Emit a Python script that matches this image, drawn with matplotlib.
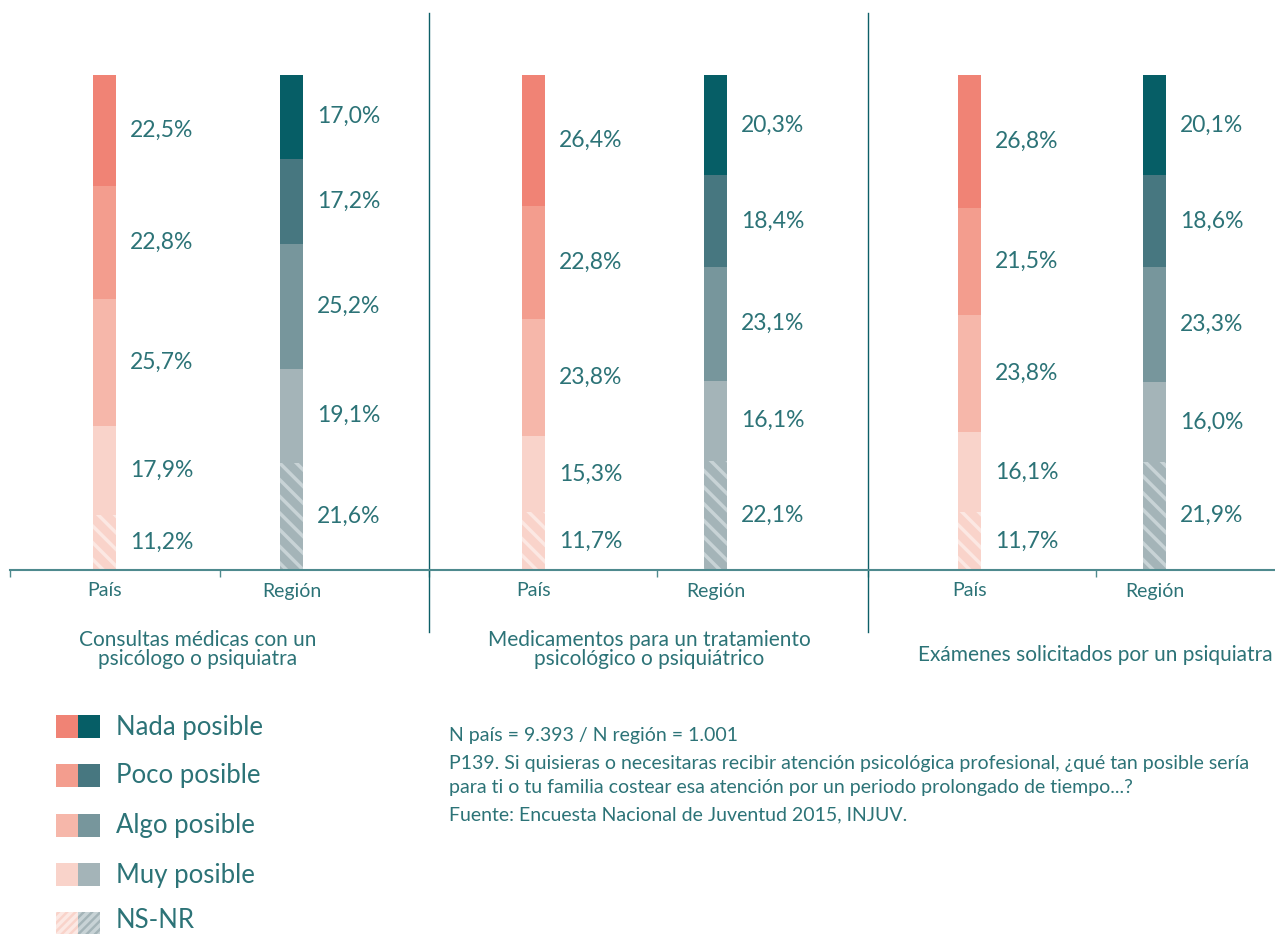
import matplotlib
matplotlib.use("Agg")
import matplotlib.pyplot as plt
from matplotlib.patches import Rectangle

plt.rcParams['font.family'] = ['Lato', 'DejaVu Sans']
plt.rcParams['hatch.linewidth'] = 2.5

# data (top to bottom: Nada, Poco, Algo, Muy, NS-NR)
categories = ["Nada posible", "Poco posible", "Algo posible", "Muy posible", "NS-NR"]
groups = ["Consultas médicas con un\npsicólogo o psiquiatra",
          "Medicamentos para un tratamiento\npsicológico o psiquiátrico",
          "Exámenes solicitados por un psiquiatra"]
bar_names = ["País", "Región"]

pais = [
    [22.5, 22.8, 25.7, 17.9, 11.2],
    [26.4, 22.8, 23.8, 15.3, 11.7],
    [26.8, 21.5, 23.8, 16.1, 11.7],
]
region = [
    [17.0, 17.2, 25.2, 19.1, 21.6],
    [20.3, 18.4, 23.1, 16.1, 22.1],
    [20.1, 18.6, 23.3, 16.0, 21.9],
]

pais_colors = ["#F08375", "#F39D8E", "#F6B7AA", "#F9D3CA", "#F9D3CA"]
region_colors = ["#065E66", "#477780", "#77969C", "#A4B4B8", "#A4B4B8"]
hatch_pais = "#FCE8E3"
hatch_region = "#C8D3D6"
txt = "#2C7377"

W, H = 1275, 934
fig = plt.figure(figsize=(W / 100, H / 100), dpi=100)

base_y = 570
top_y = 13
scale = 4.95  # px per percent
ax = fig.add_axes([10 / W, (H - base_y) / H, (W - 10) / W, (base_y - top_y) / H])
ax.set_xlim(10, 1275)
ax.set_ylim(0, (base_y - top_y) / scale)

bar_x = [[104.5, 291.5], [533.5, 715.5], [969.5, 1154.5]]
title_x = [198, 649, 1095]
title_y = [-16.0, -16.0, -17.2]
bar_w = 23


def draw_stack(x, vals, colors, hcol):
    bottom = 0
    # stack from the bottom: reversed order
    for i in reversed(range(len(vals))):
        v = vals[i]
        hatch = '\\\\' if i == 4 else None
        ax.bar(x, v, bottom=bottom, width=bar_w, color=colors[i],
               edgecolor=hcol if hatch else colors[i], linewidth=0, hatch=hatch)
        ax.text(x + bar_w / 2 + 14, bottom + v / 2,
                f"{v:.1f}".replace('.', ',') + '%', color=txt, fontsize=16.5,
                va='center', ha='left')
        bottom += v


for g in range(3):
    draw_stack(bar_x[g][0], pais[g], pais_colors, hatch_pais)
    draw_stack(bar_x[g][1], region[g], region_colors, hatch_region)
    for k in range(2):
        ax.text(bar_x[g][k], -21 / scale, bar_names[k], color=txt, fontsize=14,
                ha='center', va='center', clip_on=False)
    ax.text(title_x[g], title_y[g], groups[g], color=txt, fontsize=15,
            ha='center', va='center', linespacing=0.95, clip_on=False)

for dx in [429, 868]:
    ax.plot([dx, dx], [(base_y - 13) / scale, (base_y - 632) / scale],
            color="#0D5F67", lw=1, clip_on=False)

for s in ['top', 'right', 'left']:
    ax.spines[s].set_visible(False)
ax.spines['bottom'].set_color("#4E8A8E")
ax.spines['bottom'].set_linewidth(1.5)
ax.set_yticks([])
ax.set_xticks([10, 220, 429, 657, 868, 1096])
ax.set_xticklabels([])
ax.tick_params(axis='x', length=5, width=1, color="#4E8A8E", direction='out')

# legend
leg_y = [726, 775, 825, 874, 923]
leg_txt_y = [727, 776, 826, 875, 920]
for i, name in enumerate(categories):
    y0 = H - leg_y[i] - 11.5
    hatch = '////' if i == 4 else None
    fig.add_artist(Rectangle((56 / W, y0 / H), 22 / W, 23 / H, transform=fig.transFigure,
                             facecolor=pais_colors[i], edgecolor=hatch_pais if hatch else pais_colors[i],
                             linewidth=0, hatch=hatch))
    fig.add_artist(Rectangle((78 / W, y0 / H), 22 / W, 23 / H, transform=fig.transFigure,
                             facecolor=region_colors[i], edgecolor=hatch_region if hatch else region_colors[i],
                             linewidth=0, hatch=hatch))
    fig.text(116 / W, (H - leg_txt_y[i]) / H, name, color=txt, fontsize=18.5, va='center', ha='left')

notes = ["N país = 9.393 / N región = 1.001",
         "P139. Si quisieras o necesitaras recibir atención psicológica profesional, ¿qué tan posible sería",
         "para ti o tu familia costear esa atención por un periodo prolongado de tiempo...?",
         "Fuente: Encuesta Nacional de Juventud 2015, INJUV."]
note_y = [735, 763, 788, 815]
for t, y in zip(notes, note_y):
    fig.text(449 / W, (H - y) / H, t, color=txt, fontsize=14, va='center', ha='left')

fig.savefig("out.png", dpi=100)
